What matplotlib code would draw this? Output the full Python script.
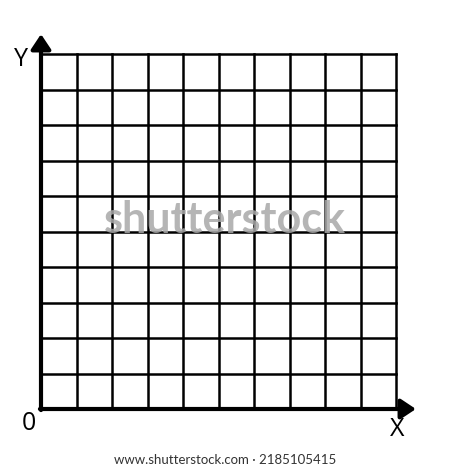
import matplotlib
matplotlib.use("Agg")
import matplotlib.pyplot as plt
import numpy as np

# data: grid of 10 x 10 unit cells
n_cols = 10
n_rows = 10
x_label = "X"
y_label = "Y"
origin_label = "0"
watermark = "shutterstock"
credit = "www.shutterstock.com · 2185105415"

W, H = 450, 470
fig = plt.figure(figsize=(W / 100, H / 100), dpi=100)
fig.patch.set_facecolor("white")

left, right, top, bottom = 41, 396, 54, 409
ax = fig.add_axes([left / W, (H - bottom) / H, (right - left) / W, (bottom - top) / H])
ax.set_xlim(0, n_cols)
ax.set_ylim(0, n_rows)
ax.axis("off")

xs = np.arange(0, n_cols + 1)
ys = np.arange(0, n_rows + 1)
for x in xs[1:]:
    ax.plot([x, x], [0, n_rows], color="black", lw=1.8, solid_capstyle="projecting", clip_on=False)
for y in ys[1:]:
    ax.plot([0, n_cols], [y, y], color="black", lw=1.8, solid_capstyle="projecting", clip_on=False)

ext = 0.56
style = "-|>,head_length=0.45,head_width=0.3"
ax.annotate("", xy=(0, n_rows + ext), xytext=(0, -0.03),
            arrowprops=dict(arrowstyle=style, lw=3, color="black", mutation_scale=20,
                            shrinkA=0, shrinkB=0), annotation_clip=False)
ax.annotate("", xy=(n_cols + ext, 0), xytext=(-0.03, 0),
            arrowprops=dict(arrowstyle=style, lw=3, color="black", mutation_scale=20,
                            shrinkA=0, shrinkB=0), annotation_clip=False)

font = "Open Sans"
fig.text(21 / W, 1 - 59 / H, y_label, fontsize=18, family=font, ha="center", va="center")
fig.text(28.5 / W, 1 - 424 / H, origin_label, fontsize=18, family=font, ha="center", va="center")
fig.text(397 / W, 1 - 430 / H, x_label, fontsize=18, family=font, ha="center", va="center")

fig.text(225 / W, 1 - 220 / H, watermark, fontsize=31, family="Lato", weight="bold",
         color="#a8a8a8", alpha=0.85, ha="center", va="center")
fig.text(225 / W, 1 - 460 / H, credit, fontsize=9.5, family="Lato", color="#333333",
         ha="center", va="center")

fig.savefig("out.png", dpi=100, facecolor="white")
